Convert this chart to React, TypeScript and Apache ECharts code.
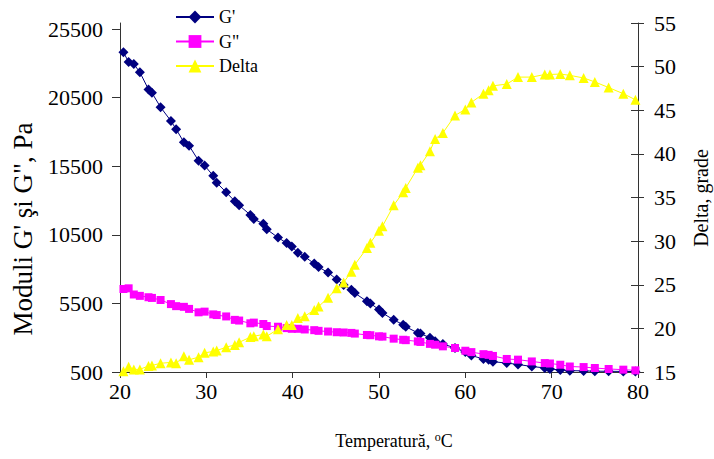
import React, { useEffect, useRef } from "react";
import * as echarts from "echarts";

const temperatures = [
  20.4, 21.0, 21.6, 22.3, 23.3, 23.7, 24.7, 25.9, 26.5, 27.4, 28.0, 29.1, 29.8, 30.8, 31.2,
  32.3, 33.3, 33.8, 35.1, 35.5, 36.6, 37.0, 38.3, 39.3, 39.9, 40.6, 41.4, 42.5, 43.0, 44.1,
  45.1, 45.9, 46.8, 47.2, 48.6, 49.0, 50.0, 50.4, 51.7, 52.8, 53.1, 54.5, 54.8, 55.9, 56.5,
  57.4, 58.8, 60.0, 60.7, 62.1, 62.7, 63.2, 64.8, 66.1, 67.7, 69.2, 69.8, 71.0, 72.1, 73.7,
  75.0, 76.6, 78.3, 79.7,
];

const gPrime = [
  23800, 23100, 22950, 22350, 21100, 20850, 19800, 18800, 18200, 17250, 17000, 15900, 15550, 14800, 14300,
  13600, 12950, 12650, 11950, 11650, 11300, 10900, 10300, 9900, 9650, 9200, 8900, 8400, 8150, 7750,
  7250, 6850, 6500, 6250, 5650, 5500, 5050, 4800, 4300, 3950, 3800, 3350, 3300, 3000, 2750,
  2550, 2250, 1950, 1700, 1450, 1400, 1250, 1150, 1050, 900, 800, 720, 650, 600, 580,
  560, 550, 540, 530,
];

const gDoublePrime = [
  6550, 6600, 6150, 6050, 5950, 5900, 5750, 5450, 5300, 5250, 5100, 4850, 4900, 4700, 4650,
  4550, 4300, 4250, 4050, 4100, 4000, 3850, 3800, 3700, 3650, 3650, 3600, 3550, 3500, 3450,
  3400, 3380, 3350, 3300, 3200, 3180, 3100, 3080, 2930, 2850, 2820, 2730, 2690, 2550, 2490,
  2370, 2250, 2050, 1950, 1800, 1750, 1670, 1450, 1400, 1270, 1150, 1120, 1030, 900, 860,
  790, 720, 670, 620,
];

const delta = [
  15.1, 15.6, 15.3, 15.3, 15.7, 15.75, 16.0, 16.1, 16.0, 16.8, 16.4, 16.7, 17.2, 17.35, 17.45,
  17.85, 18.1, 18.4, 19.0, 19.1, 19.3, 19.1, 19.9, 20.4, 20.4, 21.2, 21.4, 22.1, 22.5, 23.5,
  24.6, 25.25, 26.5, 27.3, 29.2, 29.8, 31.2, 31.7, 34.1, 35.6, 36.1, 38.4, 38.7, 40.3, 41.7,
  42.4, 44.4, 45.1, 45.9, 46.9, 47.3, 47.8, 48.0, 48.8, 48.8, 49.1, 49.1, 49.15, 49.0, 48.7,
  48.25, 47.6, 46.9, 46.2,
];

const leftTicks = [500, 5500, 10500, 15500, 20500, 25500];
const seriesNames = ["G'", 'G"', "Delta"];

const FONT = "Liberation Serif";
const AXIS_COLOR = "#333";

export default function App() {
  const ref = useRef<HTMLDivElement>(null);

  useEffect(() => {
    const chart = echarts.init(ref.current!, null, { renderer: "svg" });
    const axisLine = { show: true, lineStyle: { color: AXIS_COLOR, width: 1 } };
    const tickLabel = {
      fontFamily: FONT,
      fontSize: 22,
      color: "#000",
      formatter: (v: number) => String(v),
    };
    chart.setOption({
      animation: false,
      backgroundColor: "#fff",
      textStyle: { fontFamily: FONT },
      grid: { left: 120, right: 76, top: 23, bottom: 87 },
      legend: {
        data: seriesNames,
        orient: "vertical",
        left: 175,
        top: 8,
        padding: 0,
        itemWidth: 38,
        itemHeight: 16,
        itemGap: 6.5,
        textStyle: { fontFamily: FONT, fontSize: 18, color: "#000", lineHeight: 18 },
      },
      xAxis: {
        type: "value",
        min: 20,
        max: 80,
        interval: 10,
        axisLine,
        axisTick: { show: true, inside: false, length: 6, lineStyle: { color: AXIS_COLOR } },
        axisLabel: { ...tickLabel, margin: 8 },
        splitLine: { show: false },
      },
      yAxis: [
        {
          type: "value",
          position: "left",
          min: 500,
          max: 25940,
          axisLine,
          axisTick: { show: true, length: 8, customValues: leftTicks, lineStyle: { color: AXIS_COLOR } },
          axisLabel: { ...tickLabel, customValues: leftTicks, margin: 17 },
          splitLine: { show: false },
        },
        {
          type: "value",
          position: "right",
          min: 15,
          max: 55,
          interval: 5,
          axisLine,
          axisTick: { show: true, length: 6, lineStyle: { color: AXIS_COLOR } },
          axisLabel: { ...tickLabel, margin: 16 },
          splitLine: { show: false },
        },
        {
          type: "value",
          position: "right",
          min: 15,
          max: 55,
          interval: 5,
          axisLine: { show: false },
          axisTick: { show: true, inside: true, length: 7, lineStyle: { color: AXIS_COLOR } },
          axisLabel: { show: false },
          splitLine: { show: false },
        },
      ],
      graphic: [
        {
          type: "text",
          x: 394,
          y: 441,
          style: {
            text: "{n|Temperatură, }{sup|o}{n|C}",
            fill: "#000",
            align: "center",
            verticalAlign: "middle",
            rich: {
              n: { fontFamily: FONT, fontSize: 18, lineHeight: 20, fill: "#000" },
              sup: {
                fontFamily: FONT,
                fontSize: 12,
                lineHeight: 12,
                verticalAlign: "top",
                padding: [0, 0, 12, 0],
                fill: "#000",
              },
            },
          },
        },
        {
          type: "text",
          x: 23,
          y: 229,
          rotation: Math.PI / 2,
          style: {
            text: 'Moduli G\' şi G", Pa',
            fontFamily: FONT,
            fontSize: 27,
            fill: "#000",
            align: "center",
            verticalAlign: "middle",
          },
        },
        {
          type: "text",
          x: 701,
          y: 198,
          rotation: Math.PI / 2,
          style: {
            text: "Delta, grade",
            fontFamily: FONT,
            fontSize: 20,
            fill: "#000",
            align: "center",
            verticalAlign: "middle",
          },
        },
      ],
      series: [
        {
          name: seriesNames[0],
          type: "line",
          yAxisIndex: 0,
          data: temperatures.map((t, i) => [t, gPrime[i]]),
          symbol: "diamond",
          symbolSize: 10,
          lineStyle: { color: "#000080", width: 1 },
          itemStyle: { color: "#000080" },
        },
        {
          name: seriesNames[1],
          type: "line",
          yAxisIndex: 0,
          data: temperatures.map((t, i) => [t, gDoublePrime[i]]),
          symbol: "rect",
          symbolSize: 8,
          lineStyle: { color: "#FF00FF", width: 1 },
          itemStyle: { color: "#FF00FF" },
        },
        {
          name: seriesNames[2],
          type: "line",
          yAxisIndex: 1,
          data: temperatures.map((t, i) => [t, delta[i]]),
          symbol: "triangle",
          symbolSize: 10,
          lineStyle: { color: "#FFFF00", width: 1 },
          itemStyle: { color: "#FFFF00" },
        },
      ],
    });
    return () => chart.dispose();
  }, []);

  return (
    <div
      ref={ref}
      style={{ position: "fixed", left: 0, top: 0, width: 714, height: 459, background: "#fff" }}
    />
  );
}
